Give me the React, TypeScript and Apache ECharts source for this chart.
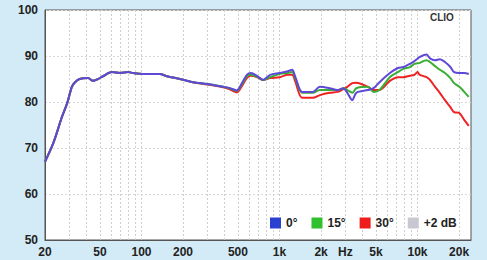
import React, { useEffect, useRef } from "react";
import * as echarts from "echarts";

// Frequencies (Hz) at which the curves were read
const freqs = [20, 23, 26.5, 29, 31.3, 33, 35.6, 41, 44.5, 48.4, 52.6, 61, 70, 80, 87, 102, 136, 153, 190, 236, 300, 390, 440, 490, 535, 580, 620, 686, 760, 855, 1000, 1150, 1235, 1300, 1460, 1740, 1960, 2310, 2630, 2900, 3100, 3370, 3600, 4370, 4800, 5300, 6300, 7200, 7900, 8800, 9500, 10000, 10400, 11600, 12300, 13400, 14500, 15800, 17300, 18400, 20100, 21800, 23500];

// SPL (dB) for 0°
const deg0 = [67.0, 71.1, 76.7, 79.8, 83.3, 84.3, 85.0, 85.2, 84.6, 85.0, 85.6, 86.5, 86.3, 86.5, 86.3, 86.1, 86.1, 85.6, 85.0, 84.3, 83.9, 83.3, 83.0, 82.5, 84.1, 85.9, 86.3, 85.7, 84.8, 85.9, 86.3, 86.7, 87.0, 85.5, 82.2, 82.2, 83.3, 83.0, 82.6, 83.0, 82.0, 80.4, 82.0, 82.6, 83.0, 84.3, 86.3, 87.4, 87.6, 88.3, 88.9, 89.4, 89.8, 90.3, 89.5, 89.1, 89.3, 88.7, 87.6, 86.5, 86.3, 86.3, 86.1];
// SPL (dB) for 15°
const deg15 = [67.0, 71.1, 76.7, 79.8, 83.3, 84.3, 85.0, 85.2, 84.6, 85.0, 85.6, 86.5, 86.3, 86.5, 86.3, 86.1, 86.1, 85.6, 85.0, 84.3, 83.9, 83.3, 82.9, 82.4, 83.9, 85.6, 85.9, 85.5, 84.8, 85.4, 86.1, 86.3, 86.5, 85.2, 82.0, 82.0, 82.6, 82.6, 82.6, 83.0, 82.6, 82.0, 83.0, 83.3, 82.2, 82.6, 85.4, 86.5, 87.2, 87.6, 88.3, 88.4, 88.5, 89.1, 88.7, 87.8, 87.0, 86.3, 85.2, 84.1, 83.3, 82.2, 81.1];
// SPL (dB) for 30°
const deg30 = [67.0, 71.1, 76.7, 79.8, 83.3, 84.3, 85.0, 85.2, 84.6, 85.0, 85.6, 86.5, 86.3, 86.5, 86.3, 86.1, 86.1, 85.6, 85.0, 84.3, 83.8, 83.2, 82.7, 82.1, 83.5, 85.2, 85.7, 85.4, 84.8, 85.2, 85.4, 85.9, 85.9, 84.5, 80.9, 80.9, 81.5, 82.0, 82.2, 82.8, 83.3, 84.1, 84.2, 83.3, 82.6, 82.6, 84.6, 85.4, 85.4, 85.7, 85.9, 86.5, 85.9, 85.4, 84.8, 83.3, 82.0, 80.4, 78.9, 77.8, 77.6, 76.1, 74.8];

// Axis
const xMinHz = 20;
const xMaxHz = 24400;
const gridFreqs = [20, 30, 40, 50, 60, 70, 80, 90, 100, 200, 300, 400, 500, 600, 700, 800, 900, 1000, 2000, 3000, 4000, 5000, 6000, 7000, 8000, 9000, 10000, 20000];
const labelFreqs = [20, 50, 100, 200, 500, 1000, 2000, 3000, 5000, 10000, 20000];
const labelTexts = ["20", "50", "100", "200", "500", "1k", "2k", "Hz", "5k", "10k", "20k"];
const yMin = 50;
const yMax = 100;
const yStep = 10;

const seriesNames = ["0°", "15°", "30°", "+2 dB"];

const FONT = "'Liberation Sans', Arial, sans-serif";

export default function App() {
  const ref = useRef<HTMLDivElement>(null);

  useEffect(() => {
    if (!ref.current) return;
    const chart = echarts.init(ref.current, null, { renderer: "svg" });
    const toPts = (vals: number[]) => freqs.map((f, i) => [Math.log10(f), vals[i]]);
    const labelMap: Record<number, string> = {};
    labelFreqs.forEach((f, i) => (labelMap[f] = labelTexts[i]));

    const lineSeries = (name: string, vals: number[], lineColor: string, iconColor: string, z: number) => ({
      name,
      type: "line",
      data: toPts(vals),
      showSymbol: false,
      symbol: "none",
      smooth: 0.3,
      z,
      lineStyle: { color: lineColor, width: 2 },
      itemStyle: { color: iconColor },
    });

    chart.setOption({
      animation: false,
      backgroundColor: "#d3ebf7",
      grid: {
        left: 45,
        right: 16,
        top: 10,
        bottom: 20,
        show: true,
        backgroundColor: "#ffffff",
        borderColor: "#555555",
        borderWidth: 1,
      },
      legend: {
        data: seriesNames,
        left: 265,
        top: 212,
        icon: "rect",
        itemWidth: 11,
        itemHeight: 11,
        itemGap: 14,
        selectedMode: false,
        textStyle: { fontFamily: FONT, fontWeight: "bold", fontSize: 12, color: "#222" },
      },
      graphic: [
        {
          type: "text",
          left: 430,
          top: 12,
          style: { text: "CLIO", font: "bold 10px 'Liberation Sans', Arial, sans-serif", fill: "#333" },
        },
      ],
      xAxis: {
        type: "value",
        min: Math.log10(xMinHz),
        max: Math.log10(xMaxHz),
        axisLine: { show: true, lineStyle: { color: "#555", width: 1 } },
        axisTick: { show: false, customValues: gridFreqs.map((f) => Math.log10(f)) },
        splitLine: { show: true, lineStyle: { color: "#cfcfcf", type: [2, 2], width: 1 } },
        axisLabel: {
          customValues: labelFreqs.map((f) => Math.log10(f)),
          formatter: (v: number) => labelMap[Math.round(Math.pow(10, v))] ?? "",
          fontFamily: FONT,
          fontWeight: "bold",
          fontSize: 12,
          color: "#222",
          margin: 6,
          hideOverlap: false,
        },
      },
      yAxis: {
        type: "value",
        min: yMin,
        max: yMax,
        interval: yStep,
        axisLine: { show: true, lineStyle: { color: "#555", width: 1 } },
        axisTick: { show: false },
        splitLine: { show: true, lineStyle: { color: "#ddd6d6", type: [2, 2], width: 1 } },
        axisLabel: {
          fontFamily: FONT,
          fontWeight: "bold",
          fontSize: 12,
          color: "#222",
          margin: 7,
        },
      },
      series: [
        lineSeries(seriesNames[2], deg30, "#ee2222", "#ee1c1c", 2),
        lineSeries(seriesNames[1], deg15, "#3aad35", "#2fbf2f", 3),
        lineSeries(seriesNames[0], deg0, "#5d48d8", "#2b3fd0", 4),
        {
          name: seriesNames[3],
          type: "line",
          data: [],
          showSymbol: false,
          lineStyle: { color: "#c8c8d2" },
          itemStyle: { color: "#c8c8d2" },
        },
      ],
    });
    return () => chart.dispose();
  }, []);

  return (
    <div
      ref={ref}
      style={{ position: "fixed", left: 0, top: 0, width: 487, height: 260 }}
    />
  );
}
